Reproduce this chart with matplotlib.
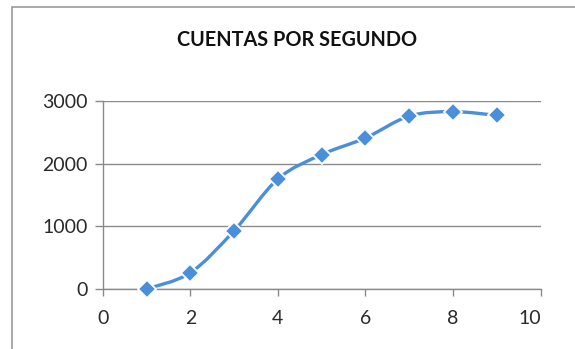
"""Counts-per-second curve with a smoothed line through the measurements."""

import matplotlib

matplotlib.use("Agg")

import matplotlib.pyplot as plt
import matplotlib.transforms as mtransforms
import numpy as np
from matplotlib.patches import PathPatch, Rectangle
from matplotlib.path import Path

# measurements
voltage_step = [1, 2, 3, 4, 5, 6, 7, 8, 9]
counts_per_second = [0, 260, 930, 1755, 2145, 2410, 2760, 2830, 2770]

x_ticks = [0, 2, 4, 6, 8, 10]
y_ticks = [0, 1000, 2000, 3000]
title_text = "CUENTAS POR SEGUNDO"

BLUE = "#4A8FDB"
GRID = "#8a8a8a"

plt.rcParams["font.family"] = ["Lato", "DejaVu Sans"]


def smooth_path(xs, ys, tension=1 / 6):
    """Bezier path through the points, Catmull-Rom style control handles."""
    pts = np.column_stack([xs, ys]).astype(float)
    n = len(pts)
    verts = [pts[0]]
    codes = [Path.MOVETO]
    for i in range(n - 1):
        p0 = pts[i - 1] if i > 0 else pts[i]
        p1 = pts[i]
        p2 = pts[i + 1]
        p3 = pts[i + 2] if i + 2 < n else pts[i + 1]
        c1 = p1 + (p2 - p0) * tension
        c2 = p2 - (p3 - p1) * tension
        verts += [c1, c2, p2]
        codes += [Path.CURVE4] * 3
    return Path(verts, codes)


fig = plt.figure(figsize=(5.75, 3.49), dpi=100)

# chart frame (runs off the right and bottom edges)
fig.patches.append(
    Rectangle((12 / 575, -0.1), 1.2, 1 - 7 / 349 + 0.1,
              transform=fig.transFigure, fill=False,
              edgecolor="#9a9a9a", linewidth=1.2)
)

ax = fig.add_axes([102.7 / 575, 60 / 349, 438 / 575, 188 / 349])

ax.add_patch(PathPatch(smooth_path(voltage_step, counts_per_second),
                       facecolor="none", edgecolor=BLUE, linewidth=2.4,
                       zorder=3))
ax.plot(voltage_step, counts_per_second, linestyle="none", marker="D",
        markersize=9.5, markerfacecolor=BLUE, markeredgecolor="white",
        markeredgewidth=1.3, zorder=4, clip_on=False)

ax.set_xlim(0, 10)
ax.set_ylim(0, 3000)
ax.set_xticks(x_ticks)
ax.set_yticks(y_ticks)
ax.set_xticklabels([str(t) for t in x_ticks])
ax.set_yticklabels([str(t) for t in y_ticks])

ax.grid(axis="y", color=GRID, linewidth=1.0)
ax.set_axisbelow(True)
for side in ("top", "right"):
    ax.spines[side].set_visible(False)
for side in ("left", "bottom"):
    ax.spines[side].set_color(GRID)
    ax.spines[side].set_linewidth(1.0)

ax.tick_params(axis="x", direction="out", length=5, width=1.0, color=GRID,
               pad=10, labelsize=14, labelcolor="#2a2a2a")
ax.tick_params(axis="y", direction="out", length=6, width=1.0, color=GRID,
               pad=5, labelsize=14, labelcolor="#2a2a2a")

# last x label sits pulled in from the frame edge
last = ax.get_xticklabels()[-1]
last.set_transform(last.get_transform()
                   + mtransforms.ScaledTranslation(-0.11, 0, fig.dpi_scale_trans))

fig.text(297 / 575, 1 - 40.5 / 349, title_text, ha="center", va="center",
         fontsize=14.3, fontweight="bold", color="#111111")

fig.savefig("out.png", dpi=100)
